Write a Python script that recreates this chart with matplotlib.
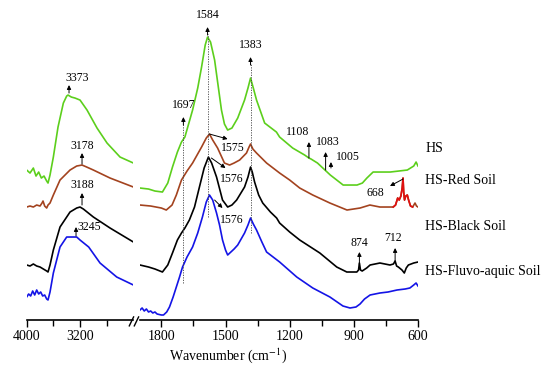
import matplotlib
matplotlib.use("Agg")
import matplotlib.pyplot as plt
import numpy as np

plt.rcParams['font.family'] = ['Liberation Serif', 'DejaVu Serif']
plt.rcParams['mathtext.fontset'] = 'stix'

# FTIR spectra (offset, arbitrary units)
# high wavenumber segment 4000-2400
wn_hi_hs = [4000, 3950, 3900, 3860, 3820, 3780, 3740, 3700, 3680, 3650, 3600, 3530, 3450, 3400,
            3380, 3330, 3275, 3200, 3095, 2945, 2795, 2600, 2400]
hs_hi = [1.50, 1.47, 1.52, 1.44, 1.48, 1.42, 1.44, 1.39, 1.37, 1.45, 1.63, 1.93, 2.17, 2.24,
         2.25, 2.23, 2.22, 2.20, 2.10, 1.92, 1.77, 1.63, 1.57]

wn_hi_red = [4000, 3950, 3900, 3850, 3800, 3770, 3755, 3730, 3700, 3680, 3650, 3600, 3500, 3350,
             3250, 3170, 3100, 3000, 2750, 2400]
red_hi = [1.13, 1.14, 1.13, 1.15, 1.14, 1.17, 1.19, 1.14, 1.12, 1.15, 1.17, 1.25, 1.40, 1.50,
          1.54, 1.55, 1.53, 1.50, 1.42, 1.33]

wn_hi_black = [4000, 3950, 3900, 3850, 3800, 3750, 3700, 3680, 3650, 3600, 3500, 3350, 3250,
               3200, 3150, 3000, 2750, 2400]
black_hi = [0.55, 0.54, 0.56, 0.54, 0.53, 0.51, 0.49, 0.48, 0.55, 0.70, 0.93, 1.08, 1.12,
            1.13, 1.11, 1.03, 0.92, 0.78]

wn_hi_fluvo = [4000, 3970, 3940, 3910, 3880, 3850, 3820, 3790, 3760, 3730, 3700, 3680, 3650, 3600,
               3500, 3400, 3250, 3200, 3070, 2900, 2650, 2400]
fluvo_hi = [0.23, 0.26, 0.24, 0.29, 0.25, 0.30, 0.26, 0.28, 0.24, 0.25, 0.21, 0.20, 0.28, 0.47,
            0.73, 0.83, 0.83, 0.80, 0.73, 0.57, 0.43, 0.35]

# low wavenumber segment 1900-600
wn_lo_hs = [1900, 1860, 1830, 1795, 1770, 1748, 1725, 1706, 1690, 1654, 1630, 1612, 1595, 1584,
            1570, 1551, 1535, 1519, 1505, 1490, 1470, 1443, 1411, 1395, 1383, 1370, 1355, 1317,
            1262, 1247, 1186, 1130, 1110, 1100, 1070, 1035, 1010, 980, 950, 920, 885, 860, 839,
            810, 770, 730, 690, 650, 620, 609, 600]
hs_lo = [1.32, 1.31, 1.29, 1.28, 1.37, 1.53, 1.68, 1.78, 1.83, 2.10, 2.32, 2.53, 2.75, 2.83,
         2.78, 2.60, 2.35, 2.10, 1.96, 1.90, 1.92, 2.02, 2.20, 2.32, 2.42, 2.32, 2.20, 1.97,
         1.88, 1.83, 1.72, 1.65, 1.62, 1.61, 1.57, 1.50, 1.45, 1.40, 1.35, 1.35, 1.35, 1.37, 1.42,
         1.48, 1.48, 1.48, 1.49, 1.50, 1.54, 1.58, 1.54]

wn_lo_red = [1900, 1850, 1800, 1777, 1750, 1730, 1706, 1680, 1654, 1612, 1590, 1575, 1560, 1537,
             1505, 1481, 1460, 1434, 1402, 1390, 1383, 1372, 1355, 1308, 1247, 1200, 1153, 1092,
             1012, 932, 871, 825, 778, 740, 716, 705, 695, 688, 680, 674, 670, 667, 663, 657,
             650, 644, 635, 625, 614, 607, 600]
red_lo = [1.15, 1.14, 1.12, 1.10, 1.15, 1.25, 1.40, 1.49, 1.57, 1.73, 1.82, 1.86, 1.80, 1.72,
          1.57, 1.55, 1.57, 1.60, 1.67, 1.73, 1.76, 1.71, 1.67, 1.57, 1.47, 1.40, 1.32, 1.25,
          1.17, 1.10, 1.12, 1.15, 1.13, 1.13, 1.13, 1.15, 1.22, 1.20, 1.24, 1.32, 1.42, 1.28,
          1.20, 1.24, 1.25, 1.20, 1.14, 1.13, 1.17, 1.14, 1.13]

wn_lo_black = [1900, 1860, 1830, 1795, 1770, 1748, 1725, 1706, 1690, 1669, 1645, 1622, 1600, 1580,
               1565, 1542, 1514, 1490, 1470, 1448, 1411, 1395, 1383, 1375, 1364, 1345, 1326, 1290,
               1261, 1247, 1200, 1153, 1059, 980, 933, 886, 878, 874, 869, 861, 840, 824, 778,
               731, 715, 707, 700, 692, 675, 664, 655, 645, 620, 600]
black_lo = [0.55, 0.53, 0.51, 0.48, 0.55, 0.67, 0.80, 0.87, 0.92, 1.00, 1.13, 1.33, 1.52, 1.63,
            1.57, 1.43, 1.20, 1.13, 1.15, 1.20, 1.33, 1.43, 1.53, 1.48, 1.38, 1.25, 1.17, 1.08,
            1.02, 0.97, 0.88, 0.80, 0.67, 0.53, 0.48, 0.48, 0.50, 0.57, 0.50, 0.49, 0.52, 0.55,
            0.57, 0.55, 0.56, 0.59, 0.54, 0.53, 0.50, 0.47, 0.52, 0.55, 0.57, 0.58]

wn_lo_fluvo = [1900, 1890, 1880, 1870, 1860, 1850, 1840, 1830, 1820, 1800, 1790, 1775, 1762, 1745,
               1730, 1715, 1701, 1680, 1654, 1630, 1608, 1590, 1575, 1560, 1542, 1528, 1514, 1500,
               1490, 1475, 1460, 1443, 1411, 1395, 1383, 1370, 1355, 1330, 1308, 1247, 1167, 1092,
               1012, 951, 918, 890, 871, 850, 824, 778, 740, 698, 660, 638, 620, 609, 600]
fluvo_lo = [0.10, 0.12, 0.09, 0.11, 0.08, 0.09, 0.07, 0.08, 0.06, 0.05, 0.05, 0.08, 0.13, 0.23,
            0.33, 0.43, 0.53, 0.63, 0.73, 0.87, 1.03, 1.18, 1.25, 1.20, 1.07, 0.95, 0.80, 0.70,
            0.65, 0.68, 0.71, 0.75, 0.87, 0.95, 1.02, 0.96, 0.90, 0.78, 0.68, 0.58, 0.43, 0.32,
            0.23, 0.14, 0.12, 0.13, 0.16, 0.21, 0.25, 0.27, 0.28, 0.30, 0.31, 0.32, 0.35, 0.37, 0.34]

names = ["HS", "HS-Red Soil", "HS-Black Soil", "HS-Fluvo-aquic Soil"]
colors = ["#5ccf1c", "#a3431f", "black", "#1414e6"]
spike_color = "#e01010"

fig = plt.figure(figsize=(5.5, 3.72), dpi=100)
ax1 = fig.add_axes([0.0485, 0.1398, 0.194, 0.860])
ax2 = fig.add_axes([0.2545, 0.1398, 0.5055, 0.860])

hi = [(wn_hi_hs, hs_hi), (wn_hi_red, red_hi), (wn_hi_black, black_hi), (wn_hi_fluvo, fluvo_hi)]
lo = [(wn_lo_hs, hs_lo), (wn_lo_red, red_lo), (wn_lo_black, black_lo), (wn_lo_fluvo, fluvo_lo)]
for (x, y), c in zip(hi, colors):
    ax1.plot(x, y, color=c, lw=1.2)
for (x, y), c in zip(lo, colors):
    ax2.plot(x, y, color=c, lw=1.2)

# red spike of the red soil spectrum near 668
wr = np.array(wn_lo_red)
rr = np.array(red_lo)
m = (wr <= 716) & (wr >= 625)
ax2.plot(wr[m], rr[m], color=spike_color, lw=1.2)

ax1.set_xlim(4000, 2400)
ax2.set_xlim(1900, 600)
for ax in (ax1, ax2):
    ax.set_ylim(0, 3.2)
    ax.set_yticks([])
    for s in ("top", "left", "right"):
        ax.spines[s].set_visible(False)
    ax.spines["bottom"].set_linewidth(1.2)
    ax.patch.set_alpha(0)
    ax.tick_params(axis="x", which="both", direction="out", width=1.0, labelsize=10, pad=2)
    ax.tick_params(axis="x", which="major", length=5)
    ax.tick_params(axis="x", which="minor", length=4)

ax1.set_xticks([4000, 3200])
ax1.set_xticks([3600, 2800], minor=True)
ax2.set_xticks([1800, 1500, 1200, 900, 600])
ax2.set_xticks([1650, 1350, 1050, 750], minor=True)

# axis break marks
for x0 in (129.3, 134.3):
    fig.add_artist(plt.Line2D([x0 / 550, (x0 + 4.3) / 550], [0.124, 0.148],
                              transform=fig.transFigure, color="black", lw=1.0))

arrow = dict(arrowstyle="-|>", color="black", lw=0.7, mutation_scale=6, shrinkA=0, shrinkB=0)
fs = 8.5

# dotted guide lines with arrows
for wn, lo_y, tip, lab in [(1697, 0.37, 2.03, 2.15), (1584, 1.03, 2.93, 3.05), (1383, 0.87, 2.63, 2.75)]:
    ax2.vlines(wn, lo_y, tip - 0.07, colors="#444444", linestyles=(0, (1.5, 1.5)), lw=0.6)
    ax2.annotate("", xy=(wn, tip), xytext=(wn, tip - 0.08), arrowprops=arrow)
    ax2.text(wn, lab, str(wn), ha="center", va="center", fontsize=fs)

# vertical arrows, left panel
for wn, y0, y1, tx, ty, ha, lab in [(3365, 2.27, 2.35, 3425, 2.42, "left", "3373"),
                                     (3170, 1.56, 1.67, 3160, 1.74, "center", "3178"),
                                     (3170, 1.15, 1.27, 3160, 1.35, "center", "3188"),
                                     (3260, 0.84, 0.93, 3245, 0.93, "left", "3245")]:
    ax1.annotate("", xy=(wn, y1), xytext=(wn, y0), arrowprops=arrow)
    ax1.text(tx, ty, lab, ha=ha, va="center", fontsize=fs)

# vertical arrows, right panel
for wn, y0, y1, tx, ty, ha, lab in [(1110, 1.62, 1.78, 1162, 1.88, "center", "1108"),
                                     (1032, 1.50, 1.68, 1021, 1.78, "center", "1083"),
                                     (1007, 1.52, 1.58, 984, 1.63, "left", "1005"),
                                     (874, 0.55, 0.68, 874, 0.77, "center", "874"),
                                     (707, 0.57, 0.72, 717, 0.82, "center", "712")]:
    ax2.annotate("", xy=(wn, y1), xytext=(wn, y0), arrowprops=arrow)
    ax2.text(tx, ty, lab, ha=ha, va="center", fontsize=fs)

# diagonal arrows
for x0, y0, x1, y1, tx, ty, ha, lab in [(1575, 1.86, 1490, 1.81, 1523, 1.72, "left", "1575"),
                                         (1566, 1.62, 1500, 1.52, 1528, 1.41, "left", "1576"),
                                         (1551, 1.20, 1514, 1.12, 1528, 1.00, "left", "1576"),
                                         (670, 1.41, 731, 1.34, 801, 1.27, "center", "668")]:
    ax2.annotate("", xy=(x1, y1), xytext=(x0, y0), arrowprops=arrow)
    ax2.text(tx, ty, lab, ha=ha, va="center", fontsize=fs)

# series names
for name, yf in zip(names, [0.602, 0.516, 0.392, 0.271]):
    fig.text(0.773, yf, name, ha="left", va="center", fontsize=10)

fig.text(228 / 550, 0.043, "Wavenumber (cm$^{-1}$)", ha="center", va="center", fontsize=10)

fig.savefig("out.png", dpi=100)
